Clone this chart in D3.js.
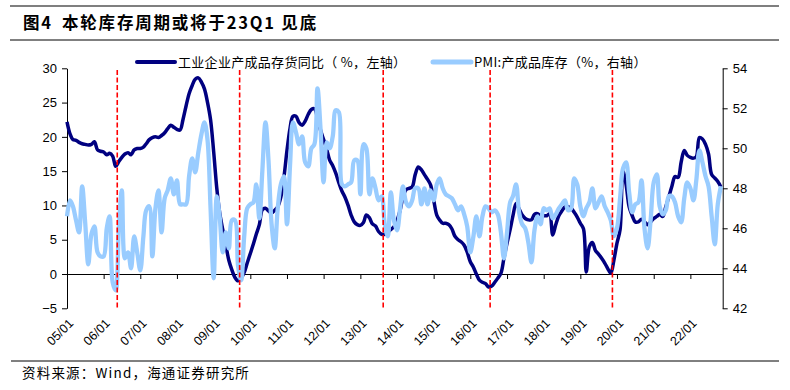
<!DOCTYPE html>
<html><head><meta charset="utf-8">
<script src="https://cdn.jsdelivr.net/npm/d3@7"></script>
<style>
html,body{margin:0;padding:0;background:#fff;}
svg{display:block;}
</style>
</head><body>
<svg id="chart" width="790" height="390"></svg>
<script>
// ---- data ----
const startMonth = "2005-01";
const inventoryYoY = [
22.2,20.4,19.6,19.5,19.2,19.0,18.9,18.8,18.9,19.3,
18.1,17.9,17.8,17.4,17.6,17.2,15.7,16.4,17.0,17.5,
17.7,17.4,18.1,18.3,18.3,18.5,19.0,19.6,19.9,20.0,
19.9,20.2,20.6,21.2,21.7,21.4,21.1,21.0,22.5,24.5,
26.3,27.5,28.4,28.6,28.0,27.0,25.0,22.5,17.8,12.5,
9.0,6.5,4.3,2.0,0.6,-0.5,-1.0,-0.6,0.2,1.6,
3.0,4.4,5.8,7.2,9.4,9.6,9.2,8.9,9.3,9.8,
11.2,14.0,18.0,21.3,23.0,23.0,22.1,21.7,22.3,23.3,
24.0,24.1,22.8,21.0,19.6,18.2,16.6,15.8,14.7,13.3,
12.1,11.2,10.0,8.6,7.6,7.2,7.1,7.5,8.6,8.2,
7.3,7.0,6.2,5.8,5.8,6.1,6.5,6.9,7.8,9.3,
11.2,12.3,12.5,12.7,14.5,15.6,15.2,14.5,13.8,13.0,
10.8,8.6,7.9,7.4,7.4,7.2,6.6,5.5,5.0,4.7,
4.2,3.2,1.8,1.0,0.0,-0.9,-1.2,-1.4,-1.9,-1.75,
-1.2,-0.6,0.1,2.3,4.5,6.5,8.5,10.3,9.5,8.6,
8.1,7.9,7.9,8.7,8.8,8.5,8.5,8.5,8.8,5.7,
7.2,8.5,9.2,9.8,9.8,9.6,9.0,8.3,7.4,6.6,
0.3,4.0,4.6,3.4,2.9,2.3,1.6,0.8,0.1,2.0,
4.5,6.5,15.0,13.0,9.8,8.5,7.6,7.6,8.0,7.6,
7.2,7.6,8.1,8.4,8.7,8.4,9.8,11.3,12.8,14.2,
14.1,16.3,18.0,17.3,17.0,16.9,17.1,19.9,19.7,18.9,
17.5,14.5,14.0,13.5,12.7
];
const pmiInventory = [
46.6,47.4,47.1,46.4,45.8,48.1,46.3,44.2,45.7,46.1,
44.8,44.6,44.6,46.0,46.6,43.3,42.9,46.0,47.9,44.5,
44.8,44.0,45.6,44.8,43.9,45.6,46.9,47.1,44.6,47.0,
47.9,45.8,47.5,47.9,48.5,47.7,48.4,47.2,47.2,47.2,
48.6,49.5,48.8,49.8,50.7,51.3,50.4,47.0,43.5,47.6,
46.6,44.8,45.8,45.0,46.4,46.4,44.1,43.4,45.6,47.0,
47.2,47.3,48.2,46.5,48.9,51.3,49.4,46.2,45.0,47.0,
48.2,48.6,46.2,49.2,51.3,50.8,50.2,50.6,49.3,49.1,
50.0,50.2,53.0,51.0,48.3,50.3,50.0,50.6,51.9,51.8,
48.2,48.1,48.2,48.3,49.4,49.4,47.7,50.2,50.0,47.7,
48.5,48.0,47.4,47.6,46.2,45.6,47.8,46.4,45.9,47.0,
48.1,47.3,47.1,47.4,48.0,48.0,47.2,48.0,47.2,47.9,
47.4,48.2,48.5,48.0,47.7,47.6,47.5,47.2,46.9,47.1,
46.7,46.1,44.8,45.6,46.6,45.6,46.6,47.1,47.0,46.8,
46.9,46.7,45.8,44.5,45.8,47.3,47.6,48.2,46.8,46.2,
46.0,45.3,44.3,45.9,46.6,46.2,47.0,46.9,47.0,46.5,
46.7,47.0,47.2,47.4,46.9,47.0,48.5,48.2,47.1,46.6,
47.0,47.3,48.0,47.0,47.3,47.6,47.1,46.8,46.4,45.6,
46.0,47.5,49.0,49.3,47.8,46.8,47.2,47.3,48.4,46.0,
45.0,46.4,48.3,48.7,47.1,46.7,46.9,47.6,47.6,47.3,
46.6,46.3,47.5,48.3,48.0,47.4,48.4,49.9,49.3,48.6,
48.1,46.6,45.2,47.2,48.1
];
const xTickLabels = ["05/01","06/01","07/01","08/01","09/01","10/01","11/01","12/01","13/01",
  "14/01","15/01","16/01","17/01","18/01","19/01","20/01","21/01","22/01"];
const leftTicks = [-5,0,5,10,15,20,25,30];
const rightTicks = [42,44,46,48,50,52,54];
const troughMonths = ["2006-05","2009-09","2013-08","2016-07","2019-11"];
const seriesNames = ["工业企业产成品存货同比（ %，左轴）","PMI:产成品库存（%，右轴）"];
const titleNo = "图4";
const titleText = "本轮库存周期或将于23Q1 见底";
const sourceText = "资料来源：Wind，海通证券研究所";

// ---- layout ----
const svg = d3.select("#chart");
const X0 = 67, X1 = 722.7, YT = 68.3, YB = 308.3;
const NAVY = "#000080", LIGHT = "#99CCFF";
const pm = d3.timeParse("%Y-%m");
const start = pm(startMonth);
const months = d3.timeMonth.range(start, d3.timeMonth.offset(start, inventoryYoY.length));

const x = d3.scaleTime().domain([start, new Date(2022, 10, 19)]).range([X0, X1]);
const yL = d3.scaleLinear().domain([-5, 30]).range([YB, YT]);
const yR = d3.scaleLinear().domain([42, 54]).range([YB, YT]);
const halfMonth = (x(d3.timeMonth.offset(start, 1)) - x(start)) / 2;

// Title and rules
svg.append("line").attr("x1", 10).attr("x2", 779).attr("y1", 6).attr("y2", 6)
  .attr("stroke", "#000").attr("stroke-width", 1.2);
svg.append("line").attr("x1", 10).attr("x2", 779).attr("y1", 40).attr("y2", 40)
  .attr("stroke", "#000").attr("stroke-width", 1);
const title = svg.append("text").attr("y", 29)
  .attr("font-family", "'Noto Sans CJK SC', sans-serif").attr("font-weight", 700)
  .attr("font-size", 16.5).attr("letter-spacing", 1.8).attr("fill", "#000");
title.append("tspan").attr("x", 23).text(titleNo);
title.append("tspan").attr("x", 62).text(titleText);

svg.append("line").attr("x1", 11).attr("x2", 779).attr("y1", 361).attr("y2", 361)
  .attr("stroke", "#000").attr("stroke-width", 1);
svg.append("text").attr("x", 22).attr("y", 378)
  .attr("font-family", "'Noto Sans CJK SC', sans-serif").attr("font-size", 13.5)
  .attr("letter-spacing", 1.2).attr("fill", "#000").text(sourceText);

// Axes
const tickFont = "'Liberation Sans', Arial, sans-serif";
const gL = svg.append("g").attr("transform", `translate(${X0},0)`)
  .call(d3.axisLeft(yL).tickValues(leftTicks).tickSize(5).tickSizeOuter(0).tickPadding(5).tickFormat(d3.format("d")));
const gR = svg.append("g").attr("transform", `translate(${X1},0)`)
  .call(d3.axisRight(yR).tickValues(rightTicks).tickSize(5).tickSizeOuter(0).tickPadding(5).tickFormat(d3.format("d")));
[gL, gR].forEach(g => {
  g.selectAll("text").attr("font-family", tickFont).attr("font-size", 13).attr("fill", "#000");
  g.selectAll("line,path").attr("stroke", "#000");
});

const pt = d3.timeParse("%y/%m");
const xTickDates = xTickLabels.map(s => pt(s));
const gX = svg.append("g").attr("transform", `translate(0,${yL(0)})`)
  .call(d3.axisBottom(x).tickValues(xTickDates).tickSize(5).tickSizeOuter(0).tickFormat(""));
gX.selectAll("line,path").attr("stroke", "#000");

svg.append("g").selectAll("text").data(xTickLabels).join("text")
  .attr("transform", d => `translate(${x(pt(d)) + 4},${321}) rotate(-45)`)
  .attr("text-anchor", "end").attr("dy", "0.35em")
  .attr("font-family", tickFont).attr("font-size", 12.5).attr("fill", "#000")
  .text(d => d);

// Series
const lineL = d3.line().x((d, i) => x(months[i])).y(d => yL(d)).curve(d3.curveCatmullRom.alpha(0.5));
const lineR = d3.line().x((d, i) => x(months[i])).y(d => yR(d)).curve(d3.curveCatmullRom.alpha(0.5));

svg.append("path").datum(inventoryYoY).attr("d", lineL)
  .attr("fill", "none").attr("stroke", NAVY).attr("stroke-width", 3.5)
  .attr("stroke-linejoin", "round");
svg.append("path").datum(pmiInventory).attr("d", lineR)
  .attr("fill", "none").attr("stroke", LIGHT).attr("stroke-width", 4.3)
  .attr("stroke-linejoin", "round");

// trough markers
svg.append("g").selectAll("line").data(troughMonths).join("line")
  .attr("x1", d => x(pm(d)) + halfMonth).attr("x2", d => x(pm(d)) + halfMonth)
  .attr("y1", 70).attr("y2", 310)
  .attr("stroke", "#FF0000").attr("stroke-width", 1.6).attr("stroke-dasharray", "5,2.5");

// Legend
const legend = [
  {name: seriesNames[0], color: NAVY, w: 4, x: 137},
  {name: seriesNames[1], color: LIGHT, w: 5, x: 433}
];
const lg = svg.append("g").selectAll("g").data(legend).join("g");
lg.append("line").attr("x1", d => d.x).attr("x2", d => d.x + 38).attr("y1", 62).attr("y2", 62)
  .attr("stroke", d => d.color).attr("stroke-width", d => d.w).attr("stroke-linecap", "round");
lg.append("text").attr("x", d => d.x + 41).attr("y", 66.5)
  .attr("font-family", "'Noto Sans CJK SC', sans-serif").attr("font-size", 13)
  .attr("letter-spacing", 0.3).attr("fill", "#000").text(d => d.name);
</script>
</body></html>
